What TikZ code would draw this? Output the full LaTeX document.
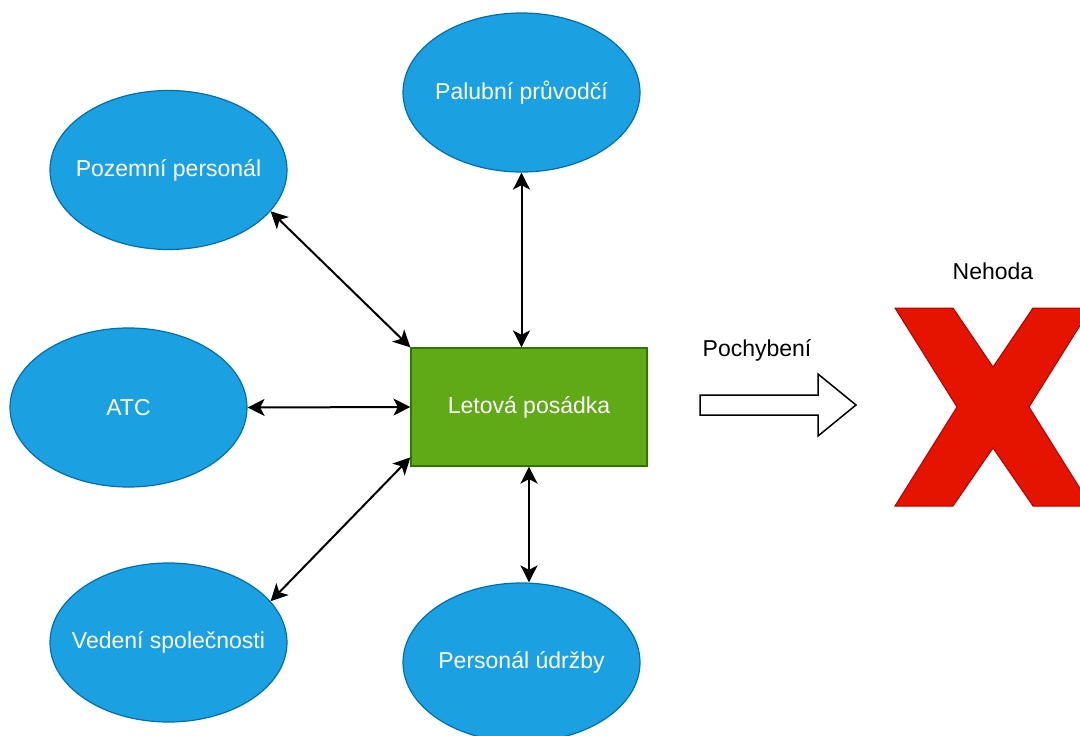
\documentclass[tikz,border=0pt]{standalone}
\usepackage{fontspec}
\setmainfont{Liberation Sans}
\usetikzlibrary{shapes,arrows.meta,positioning}
\definecolor{partyblue}{HTML}{1BA1E2}
\definecolor{partyline}{HTML}{006EAF}
\definecolor{crewgreen}{HTML}{60A917}
\definecolor{crewline}{HTML}{2D7600}
\definecolor{xred}{HTML}{E51400}
\definecolor{xline}{HTML}{B20000}
\tikzset{
    party/.style={ellipse, draw=partyline, line width=1.2pt, fill=partyblue, text=white,
        minimum width=237pt, minimum height=159pt, inner xsep=-50pt, inner ysep=0pt,
        font=\fontsize{23}{27}\selectfont},
    crewbox/.style={rectangle, draw=crewline, line width=1.2pt, fill=crewgreen, text=white,
        minimum width=236pt, minimum height=118pt, inner sep=0pt, font=\fontsize{23}{27}\selectfont},
    tag/.style={font=\fontsize{23}{27}\selectfont, inner sep=0pt},
    link/.style={{Stealth[length=17pt,width=17pt,inset=4.5pt]}-{Stealth[length=17pt,width=17pt,inset=4.5pt]}, line width=2pt}
}

\begin{document}
\begin{tikzpicture}[x=1pt, y=-1pt]
    \path[use as bounding box, clip] (0,0) rectangle (1080,736);

    % Central crew
    \node[crewbox] (crew) at (529,407) {Letová posádka};

    % Surrounding parties
    \node[party] (cabin) at (521.5,92.5) {Palubní průvodčí};
    \node[party] (ground) at (168.5,170) {Pozemní personál};
    \node[party] (atc) at (128.5,407.5) {ATC};
    \node[party] (mgmt) at (168.5,642.5) {Vedení společnosti};
    \node[party] (maint) at (521.5,662.5) {Personál údržby};

    % Connecting lines
    \draw[link] (ground.-22) -- (crew.north west);
    \draw[link] (cabin.south) -- (cabin.south |- crew.north);
    \draw[link] (atc.east) -- (crew.west);
    \draw[link] (mgmt.22) -- (crew.203);
    \draw[link] (crew.south) -- (crew.south |- maint.north);

    % Error leading to accident
    \draw[line width=1.5pt, fill=white] (700,395) -- (818,395) -- (818,374) -- (856,405)
        -- (818,436) -- (818,415) -- (700,415) -- cycle;
    \node[tag] (err) at (757,350) {Pochybení};

    \node[tag] (acc) at (993,271) {Nehoda};
    \draw[line width=1pt, draw=xline, fill=xred] (895,308) -- (953,308) -- (993,367) -- (1033,308)
        -- (1091,308) -- (1029,407) -- (1091,506) -- (1033,506) -- (993,448) -- (953,506)
        -- (895,506) -- (957,407) -- cycle;
\end{tikzpicture}
\end{document}
